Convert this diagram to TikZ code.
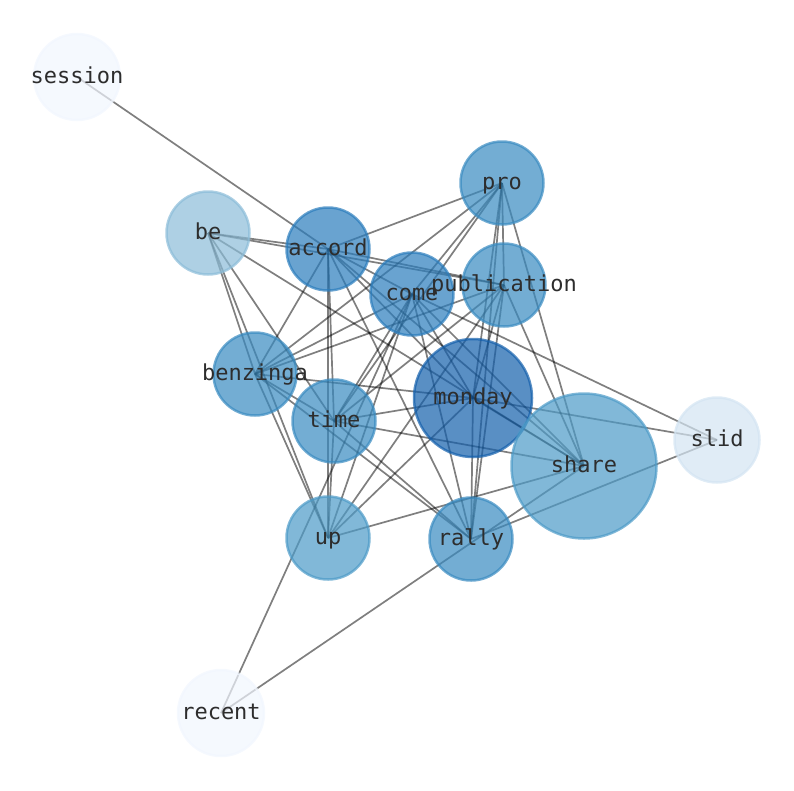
\documentclass[tikz,border=0pt]{standalone}
\usepackage{fontspec}
\newfontfamily\wordfont{DejaVu Sans Mono}
\usepackage{tikz}
\usetikzlibrary{backgrounds}
\definecolor{BlueMon}{RGB}{19,95,171}
\definecolor{BlueAcc}{RGB}{42,124,188}
\definecolor{BlueMid}{RGB}{56,138,192}
\definecolor{BlueSha}{RGB}{76,154,199}
\definecolor{BlueBe}{RGB}{139,188,216}
\definecolor{BlueSli}{RGB}{211,228,242}
\definecolor{BlueLow}{RGB}{241,246,254}
\definecolor{WordGray}{RGB}{45,45,45}

\begin{document}
\begin{tikzpicture}[x=1pt,y=-1pt,
    bubble/.style={circle,inner sep=0pt,line width=2.5pt,fill opacity=0.7,draw opacity=0.7},
    word/.style={font=\wordfont\fontsize{22}{26}\selectfont,text=WordGray,
      inner sep=0pt,text height=17pt,text depth=5pt},
    link/.style={line width=1.7pt,black,opacity=0.5}]
  \useasboundingbox (0,0) rectangle (794,790);
  % word bubbles
  \foreach \name/\x/\y/\d/\col in {session/77/77/86/BlueLow, pro/502/183/83/BlueMid,
      be/208/233/83/BlueBe, accord/328/249/83/BlueAcc, come/412/294/83/BlueAcc,
      publication/504/285/83/BlueMid, benzinga/255/374/83/BlueMid, monday/473/398/118/BlueMon,
      time/334/421/83/BlueMid, slid/717/440/85/BlueSli, share/584/466/145/BlueSha,
      up/328/538/83/BlueSha, rally/471/539/83/BlueMid, recent/221/713/86/BlueLow} {
    \node[bubble,fill=\col,draw=\col,minimum size=\d,label={[word]center:\name}] (\name) at (\x,\y) {};
  }
  % co-occurrence links
  \begin{pgfonlayer}{background}
    \foreach \a/\b in {session/accord, be/accord, be/publication, be/share, be/time, be/up,
        be/benzinga, accord/pro, accord/come, accord/publication, accord/benzinga, accord/time,
        accord/up, accord/rally, accord/monday, accord/share, pro/benzinga, pro/come, pro/time,
        pro/publication, pro/monday, pro/rally, pro/share, come/benzinga, come/time, come/up,
        come/monday, come/rally, come/share, come/slid, come/recent, publication/benzinga,
        publication/time, publication/up, publication/monday, publication/rally, publication/share,
        benzinga/monday, benzinga/time, benzinga/up, benzinga/rally, time/monday, time/share,
        time/rally, time/up, monday/rally, monday/share, monday/slid, monday/up, up/share,
        rally/slid, recent/share} {
      \draw[link] (\a.center) -- (\b.center);
    }
  \end{pgfonlayer}
\end{tikzpicture}
\end{document}
